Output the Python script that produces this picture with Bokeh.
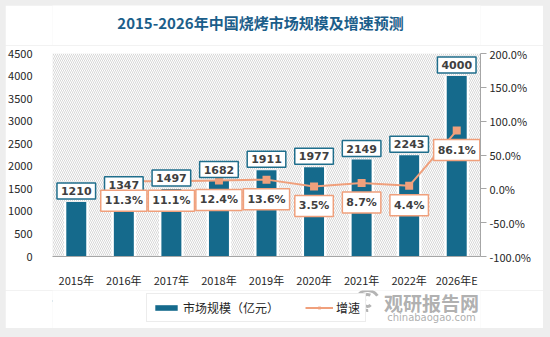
from bokeh.plotting import figure
from bokeh.layouts import column, row
from bokeh.models import (BoxAnnotation, Range1d, LinearAxis, FixedTicker, PrintfTickFormatter,
                          Legend, LegendItem, ColumnDataSource, Spacer)
from bokeh.core.properties import value
from bokeh.embed import file_html
from bokeh.resources import INLINE

title_text = "2015-2026年中国烧烤市场规模及增速预测"
years = ["2015年", "2016年", "2017年", "2018年", "2019年", "2020年", "2021年", "2022年", "2026年E"]
market_size = [1210, 1347, 1497, 1682, 1911, 1977, 2149, 2243, 4000]
growth_years = ["2016年", "2017年", "2018年", "2019年", "2020年", "2021年", "2022年", "2026年E"]
growth = [11.3, 11.1, 12.4, 13.6, 3.5, 8.7, 4.4, 86.1]
left_ticks = [0, 500, 1000, 1500, 2000, 2500, 3000, 3500, 4000, 4500]
right_ticks = [-100, -50, 0, 50, 100, 150, 200]
legend_labels = ["市场规模（亿元）", "增速"]
watermark_cn = "观研报告网"
watermark_en = "chinabaogao.com"

BLUE = "#156A8C"
SALMON = "#F0A07C"
CJK = "Noto Sans CJK SC"
W = 538


def strip(height, y_top, y_bottom):
    f = figure(width=W, height=height, x_range=Range1d(52, 480), y_range=Range1d(y_bottom, y_top),
               output_backend="svg", toolbar_location=None, min_border=0)
    f.axis.visible = False
    f.grid.grid_line_color = None
    f.outline_line_color = None
    f.border_fill_color = "white"
    f.background_fill_color = "white"
    return f


# ---- title strip ----
p0 = strip(40, 5, 45)
p0.text(x=[260], y=[22], text=[title_text], text_align="center", text_baseline="middle",
        text_font=value(CJK), text_font_style="bold", text_font_size="15px", text_color="#1B5E8A")

# ---- main chart ----
bar_src = ColumnDataSource(dict(x=years, top=market_size, label=[str(v) for v in market_size]))
g_src = ColumnDataSource(dict(x=growth_years, g=growth, label=["%.1f%%" % v for v in growth]))

p = figure(width=W, height=245, x_range=years, y_range=Range1d(0, 4500),
           output_backend="svg", toolbar_location=None,
           min_border_left=47, min_border_right=63, min_border_top=8, min_border_bottom=26)
p.extra_y_ranges = {"g": Range1d(-100, 200)}
p.border_fill_color = "white"
p.background_fill_color = "white"
p.outline_line_color = None
p.grid.grid_line_color = None

p.add_layout(BoxAnnotation(fill_color="white", fill_alpha=1, line_color=None, hatch_pattern="\\",
                           hatch_color="#D2D2D2", hatch_scale=4, hatch_weight=0.9, level="underlay"))

p.yaxis.ticker = FixedTicker(ticks=left_ticks)
p.yaxis.axis_line_color = None
p.yaxis.major_tick_line_color = None
p.yaxis.minor_tick_line_color = None
p.yaxis.major_label_standoff = 14
p.yaxis.major_label_text_font = CJK
p.yaxis.major_label_text_font_size = "11px"
p.yaxis.major_label_text_color = "#262626"

p.xaxis.axis_line_color = "#A6A6A6"
p.xaxis.major_tick_line_color = None
p.xaxis.major_label_standoff = 9
p.xaxis.major_label_text_font = CJK
p.xaxis.major_label_text_font_size = "11px"
p.xaxis.major_label_text_color = "#262626"

ry = LinearAxis(y_range_name="g", ticker=FixedTicker(ticks=right_ticks),
                formatter=PrintfTickFormatter(format="%.1f%%"))
ry.axis_line_color = "#A6A6A6"
ry.major_tick_line_color = "#A6A6A6"
ry.major_tick_out = 6
ry.major_tick_in = 0
ry.minor_tick_line_color = None
ry.major_label_standoff = 3
ry.major_label_text_font = CJK
ry.major_label_text_font_size = "11px"
ry.major_label_text_color = "#262626"
p.add_layout(ry, "right")

p.vbar(x="x", top="top", width=0.52, source=bar_src, fill_color="white", line_color=None)
bars = p.vbar(x="x", top="top", width=0.42, source=bar_src, fill_color=BLUE, line_color=None)

gl = p.line(x="x", y="g", source=g_src, y_range_name="g", line_color=SALMON, line_width=2)
gm = p.scatter(x="x", y="g", source=g_src, y_range_name="g", marker="square", size=8,
               fill_color=SALMON, line_color=None)

p.text(x="x", y="top", text="label", source=bar_src, y_offset=-3, anchor="bottom_center",
       text_font=value("DejaVu Sans"), text_font_style="bold", text_font_size="11px",
       text_color="#404040", padding=4, background_fill_color="white",
       border_line_color="#1F6E8C", border_line_width=1.5)
p.text(x="x", y="g", text="label", source=g_src, y_range_name="g", y_offset=9, anchor="top_center",
       text_font=value("DejaVu Sans"), text_font_style="bold", text_font_size="11px",
       text_color="#404040", padding=4, background_fill_color="white",
       border_line_color=SALMON, border_line_width=1.5)

# ---- bottom strip: legend + watermark ----
p2 = strip(38, 290, 328)

p2.arc(x=[367, 367, 367], y=[302, 302, 302], radius=[12, 8, 4], start_angle=[0.6, 1.2, 2.0],
       end_angle=[4.2, 4.8, 5.6], line_color="#B4B4B4", line_width=3)
p2.text(x=[431], y=[302], text=[watermark_cn], text_align="center", text_baseline="middle",
        text_font=value(CJK), text_font_style="bold", text_font_size="19px",
        text_color="#A6A6A6", text_alpha=0.9)
p2.text(x=[431], y=[317], text=[watermark_en], text_align="center", text_baseline="middle",
        text_font=value("DejaVu Sans"), text_font_size="10px", text_color="#A6A6A6", text_alpha=0.9)

lb = p2.vbar(x=[0], top=[300], bottom=[301], width=1, fill_color=BLUE, line_color=None)
ll = p2.line(x=[0, 1], y=[300, 300], line_color=SALMON, line_width=2)
lm = p2.scatter(x=[0], y=[300], marker="square", size=7, fill_color=SALMON, line_color=None)

legend = Legend(items=[LegendItem(label=legend_labels[0], renderers=[lb]),
                       LegendItem(label=legend_labels[1], renderers=[ll, lm])],
                orientation="horizontal", location=(94, 6))
legend.border_line_color = "#D9D9D9"
legend.background_fill_color = "white"
legend.background_fill_alpha = 1
legend.padding = 5
legend.margin = 0
legend.spacing = 26
legend.glyph_width = 28
legend.glyph_height = 7
legend.label_height = 7
legend.label_standoff = 3
legend.label_text_font = CJK
legend.label_text_font_size = "12px"
legend.label_text_color = "#262626"
p2.add_layout(legend, "center")

card = column(p0, p, p2, spacing=0)
layout = column(Spacer(width=550, height=5),
                row(Spacer(width=5, height=323), card, Spacer(width=7, height=323), spacing=0),
                Spacer(width=550, height=9),
                spacing=0, styles={"background-color": "#EEEEEE"})

open("out.html", "w").write(file_html(layout, INLINE))
